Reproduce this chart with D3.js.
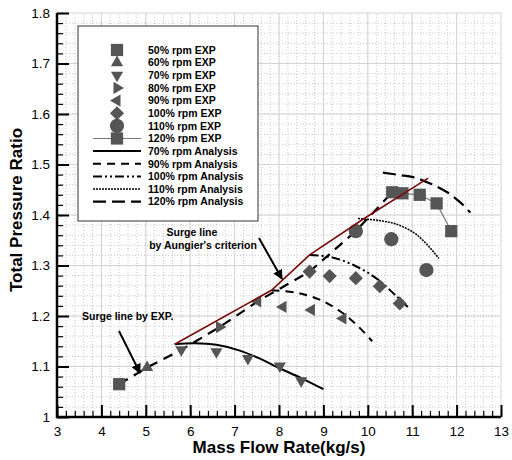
<!DOCTYPE html>
<html>
<head>
<meta charset="utf-8">
<script src="https://cdn.jsdelivr.net/npm/d3@7"></script>
<style>
  body { margin: 0; background: #fff; }
  svg { font-family: "Liberation Sans", Arial, sans-serif; }
</style>
</head>
<body>
<svg id="chart" width="512" height="460"></svg>
<script>
/* axis ticks */
const xMajor = [3, 4, 5, 6, 7, 8, 9, 10, 11, 12, 13];
const yMajor = [1, 1.1, 1.2, 1.3, 1.4, 1.5, 1.6, 1.7, 1.8];

/* experimental points, [mass flow, pressure ratio] */
const exp50 = [[4.4, 1.065]];
const exp60 = [[5.03, 1.098]];
const exp70 = [[5.8, 1.133], [6.59, 1.129], [7.3, 1.116], [8.02, 1.101], [8.5, 1.072]];
const exp80 = [[6.66, 1.178]];
const exp90 = [[7.52, 1.229], [8.09, 1.218], [8.73, 1.212], [9.44, 1.195]];
const exp100 = [[8.69, 1.288], [9.14, 1.279], [9.73, 1.275], [10.27, 1.259], [10.72, 1.225]];
const exp110 = [[9.73, 1.368], [10.53, 1.352], [11.32, 1.291]];
const exp120 = [[10.55, 1.445], [10.78, 1.443], [11.17, 1.44], [11.55, 1.423], [11.88, 1.368]];

/* analysis curves */
const ana70 = [[5.65, 1.144], [6.1, 1.146], [6.59, 1.143], [7.1, 1.132], [7.56, 1.116], [8.0, 1.097], [8.5, 1.077], [9.0, 1.055]];
const ana90 = [[7.83, 1.251], [8.4, 1.246], [8.9, 1.233], [9.4, 1.208], [9.8, 1.178], [10.1, 1.15]];
const ana100 = [[8.69, 1.321], [9.2, 1.316], [9.7, 1.3], [10.2, 1.274], [10.6, 1.243], [10.9, 1.218]];
const ana110 = [[9.78, 1.393], [10.26, 1.389], [10.64, 1.382], [11.02, 1.366], [11.24, 1.35], [11.47, 1.328], [11.6, 1.314]];
const ana120 = [[10.34, 1.484], [10.72, 1.479], [11.02, 1.475], [11.39, 1.463], [11.77, 1.446], [12.07, 1.426], [12.31, 1.405]];

/* surge lines */
const surgeExp = [[4.4, 1.065], [5.03, 1.098], [5.8, 1.133], [6.66, 1.178], [7.52, 1.229], [8.69, 1.288], [9.73, 1.368], [10.55, 1.445]];
const surgeAungier = [[5.65, 1.144], [7.83, 1.251], [8.69, 1.321], [9.9, 1.392], [11.36, 1.473]];

const expNames = ["50% rpm EXP", "60% rpm EXP", "70% rpm EXP", "80% rpm EXP", "90% rpm EXP", "100% rpm EXP", "110% rpm EXP", "120% rpm EXP"];
const anaNames = ["70% rpm Analysis", "90% rpm Analysis", "100% rpm Analysis", "110% rpm Analysis", "120% rpm Analysis"];

const font = "'Liberation Sans', Arial, sans-serif";
const grey = "#555";

let svg = d3.select("#chart");

const x = d3.scaleLinear().domain([3, 13]).range([57, 501]),
  y = d3.scaleLinear().domain([1, 1.8]).range([417, 13]);

/* grid */
let grid = svg.append("g");
grid.selectAll(".xminor")
  .data(d3.range(3.2, 13, 0.2))
  .join("line")
  .attr("x1", d => x(d)).attr("x2", d => x(d))
  .attr("y1", y(1)).attr("y2", y(1.8))
  .attr("stroke", "#c8c8c8").attr("stroke-dasharray", "1,2");
grid.selectAll(".yminor")
  .data(d3.range(1.02, 1.8, 0.02))
  .join("line")
  .attr("y1", d => y(d)).attr("y2", d => y(d))
  .attr("x1", x(3)).attr("x2", x(13))
  .attr("stroke", "#c8c8c8").attr("stroke-dasharray", "1,2");
grid.selectAll(".xmajor")
  .data(xMajor)
  .join("line")
  .attr("x1", d => x(d)).attr("x2", d => x(d))
  .attr("y1", y(1)).attr("y2", y(1.8))
  .attr("stroke", "#d4d4d4");
grid.selectAll(".ymajor")
  .data(yMajor)
  .join("line")
  .attr("y1", d => y(d)).attr("y2", d => y(d))
  .attr("x1", x(3)).attr("x2", x(13))
  .attr("stroke", "#d4d4d4");

/* axes */
function style_axis(g, size) {
  g.select(".domain").remove();
  g.selectAll(".tick line").attr("stroke", "#000").attr("stroke-width", size);
  g.selectAll(".tick text").attr("font-family", font).attr("font-size", "13.5px").attr("fill", "#000");
}

svg.append("g")
  .attr("transform", "translate(0," + y(1) + ")")
  .call(d3.axisBottom(x).tickValues(d3.range(3, 13.01, 0.2)).tickSizeInner(-6).tickSizeOuter(0).tickFormat(""))
  .call(g => style_axis(g, 1.2));
svg.append("g")
  .attr("transform", "translate(0," + y(1) + ")")
  .call(d3.axisBottom(x).tickValues(xMajor).tickSizeInner(-12).tickSizeOuter(0).tickPadding(9).tickFormat(d3.format("d")))
  .call(g => style_axis(g, 2));
svg.append("g")
  .attr("transform", "translate(" + x(3) + ",0)")
  .call(d3.axisLeft(y).tickValues(d3.range(1, 1.801, 0.02)).tickSizeInner(-6).tickSizeOuter(0).tickFormat(""))
  .call(g => style_axis(g, 1.2));
svg.append("g")
  .attr("transform", "translate(" + x(3) + ",0)")
  .call(d3.axisLeft(y).tickValues(yMajor).tickSizeInner(-12).tickSizeOuter(0).tickPadding(7).tickFormat(d => d === 1 ? "1" : d3.format(".1f")(d)))
  .call(g => style_axis(g, 2));

svg.append("path")
  .attr("d", `M${x(3)},${y(1.8)}V${y(1)}H${x(13)}`)
  .attr("fill", "none").attr("stroke", "#000").attr("stroke-width", 2.5);

svg.append("text")
  .attr("x", 279).attr("y", 453)
  .attr("text-anchor", "middle")
  .attr("font-family", font).attr("font-weight", "bold").attr("font-size", "17px")
  .text("Mass Flow Rate(kg/s)");
svg.append("text")
  .attr("transform", "translate(22," + 210 + ") rotate(-90)")
  .attr("text-anchor", "middle")
  .attr("font-family", font).attr("font-weight", "bold").attr("font-size", "17px")
  .text("Total Pressure Ratio");

/* lines */
const line = d3.line().x(d => x(d[0])).y(d => y(d[1]));
const curve = d3.line().x(d => x(d[0])).y(d => y(d[1])).curve(d3.curveCatmullRom);

const anaStyles = [
  { data: ana70, dash: null, w: 2 },
  { data: ana90, dash: "8,6", w: 2 },
  { data: ana100, dash: "9,3,2,3,2,3", w: 2 },
  { data: ana110, dash: "2,1", w: 1.6 },
  { data: ana120, dash: "13,6", w: 2.2 }
];

let lines = svg.append("g").attr("fill", "none");

lines.append("path").attr("d", line(exp120)).attr("stroke", "#777").attr("stroke-width", 1.2);

anaStyles.forEach(s => {
  lines.append("path")
    .attr("d", curve(s.data))
    .attr("stroke", "#000")
    .attr("stroke-width", s.w)
    .attr("stroke-dasharray", s.dash);
});

lines.append("path").attr("d", line(surgeExp))
  .attr("stroke", "#000").attr("stroke-width", 2.2).attr("stroke-dasharray", "10,7");

/* markers */
const markerDefs = [
  { data: exp50, type: d3.symbolSquare, size: 150, rot: 0 },
  { data: exp60, type: d3.symbolTriangle, size: 64, rot: 0 },
  { data: exp70, type: d3.symbolTriangle, size: 64, rot: 180 },
  { data: exp80, type: d3.symbolTriangle, size: 64, rot: 90 },
  { data: exp90, type: d3.symbolTriangle, size: 64, rot: -90 },
  { data: exp100, type: d3.symbolSquare, size: 100, rot: 45 },
  { data: exp110, type: d3.symbolCircle, size: 160, rot: 0 },
  { data: exp120, type: d3.symbolSquare, size: 150, rot: 0 }
];

let marks = svg.append("g");
markerDefs.forEach(m => {
  marks.append("g").selectAll("path")
    .data(m.data)
    .join("path")
    .attr("d", d3.symbol().type(m.type).size(m.size))
    .attr("transform", d => `translate(${x(d[0])},${y(d[1])}) rotate(${m.rot})`)
    .attr("fill", grey);
});

svg.append("path").attr("d", line(surgeAungier))
  .attr("fill", "none").attr("stroke", "#7a0a0a").attr("stroke-width", 1.6);

/* legend */
let legend = svg.append("g");
legend.append("rect")
  .attr("x", 78).attr("y", 26).attr("width", 180).attr("height", 195)
  .attr("fill", "#fff").attr("stroke", "#333").attr("stroke-width", 1);

const rowY = i => 50 + i * 12.64;

legend.append("line")
  .attr("x1", 93).attr("x2", 141).attr("y1", rowY(7)).attr("y2", rowY(7))
  .attr("stroke", "#777").attr("stroke-width", 1.2);

markerDefs.forEach((m, i) => {
  legend.append("path")
    .attr("d", d3.symbol().type(m.type).size(m.size))
    .attr("transform", `translate(117,${rowY(i)}) rotate(${m.rot})`)
    .attr("fill", grey);
});
anaStyles.forEach((s, i) => {
  legend.append("line")
    .attr("x1", 93).attr("x2", 141)
    .attr("y1", rowY(8 + i)).attr("y2", rowY(8 + i))
    .attr("stroke", "#000").attr("stroke-width", s.w)
    .attr("stroke-dasharray", s.dash);
});
legend.selectAll("text")
  .data(expNames.concat(anaNames))
  .join("text")
  .attr("x", 148).attr("y", (d, i) => rowY(i))
  .attr("dy", "0.36em")
  .attr("font-family", font).attr("font-weight", "bold").attr("font-size", "10.5px")
  .text(d => d);

/* annotations */
svg.append("defs").append("marker")
  .attr("id", "head").attr("viewBox", "0 0 10 10")
  .attr("refX", 9).attr("refY", 5)
  .attr("markerWidth", 5).attr("markerHeight", 5)
  .attr("orient", "auto")
  .append("path").attr("d", "M0,0L10,5L0,10Z").attr("fill", "#000");

let notes = svg.append("g")
  .attr("font-family", font).attr("font-weight", "bold").attr("font-size", "10.5px");
notes.append("text").attr("x", 192).attr("y", 236).attr("text-anchor", "middle").text("Surge line");
notes.append("text").attr("x", 203).attr("y", 249).attr("text-anchor", "middle").text("by Aungier's criterion");
notes.append("text").attr("x", 82).attr("y", 320).text("Surge line by EXP.");

notes.append("line")
  .attr("x1", 259).attr("y1", 238).attr("x2", 282).attr("y2", 279)
  .attr("stroke", "#000").attr("stroke-width", 2).attr("marker-end", "url(#head)");
notes.append("line")
  .attr("x1", 119).attr("y1", 331).attr("x2", 140).attr("y2", 373)
  .attr("stroke", "#000").attr("stroke-width", 2).attr("marker-end", "url(#head)");
</script>
</body>
</html>
